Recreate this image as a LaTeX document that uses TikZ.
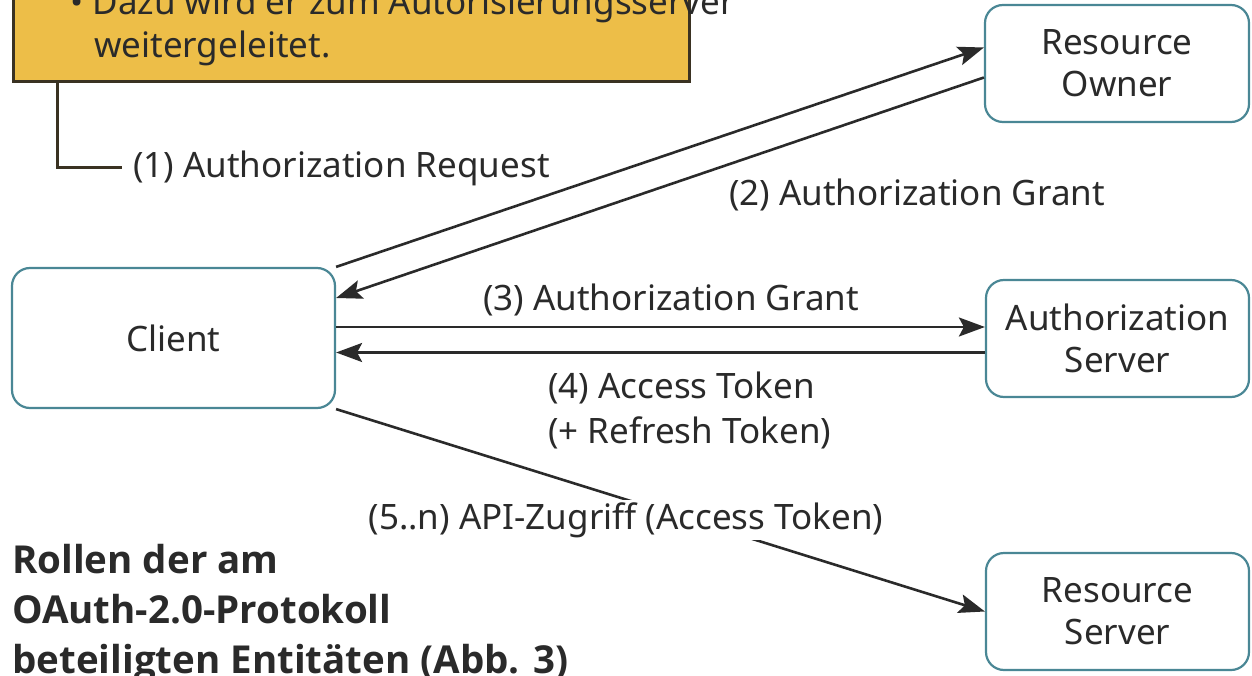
\documentclass[tikz,border=0pt]{standalone}
\usepackage{fontspec}
\setmainfont{Noto Sans}
\newfontfamily\capfont{Open Sans}
\usetikzlibrary{arrows.meta}
\definecolor{notefill}{HTML}{EDBE48}
\definecolor{noteline}{HTML}{3A3222}
\definecolor{boxline}{HTML}{4A8795}
\definecolor{ink}{HTML}{2A2A2A}

\begin{document}
\begin{tikzpicture}[
    x=1pt,
    y=-1pt,
    font=\fontsize{35}{42}\selectfont,
    text=ink,
    v/.style={draw=boxline, line width=2.2pt, rounded corners=18pt, fill=white, align=center, inner sep=0pt},
    note/.style={draw=noteline, line width=3pt, fill=notefill, inner sep=0pt},
    lbl/.style={inner sep=2pt},
    link/.style={draw=noteline, line width=3pt},
    e/.style={draw=ink, line width=2.6pt, -{Stealth[length=26pt, width=19pt, inset=5pt]}},
]
    \useasboundingbox (0,0) rectangle (1252,676);
    \clip (0,0) rectangle (1252,676);

    % note box, cut off at the top
    \node[note, minimum width=676pt, minimum height=160pt, anchor=south west] (note) at (12,83) {};
    \node[anchor=base west, inner sep=0pt] (note1) at (70,15) {\textbullet\ Dazu wird er zum Autorisierungsserver};
    \node[anchor=base west, inner sep=0pt] (note2) at (94,58) {weitergeleitet.};

    \node[v, minimum width=323pt, minimum height=140pt] (client) at (173.5,338) {Client};
    \node[v, minimum width=264pt, minimum height=117pt] (ro) at (1117,63.5) {Resource\\Owner};
    \node[v, minimum width=263pt, minimum height=117pt] (as) at (1117.5,338.5) {Authorization\\Server};
    \node[v, minimum width=263pt, minimum height=117pt] (rs) at (1117.5,611.5) {Resource\\Server};

    \draw[e] (client.north east) -- ([yshift=16pt]ro.west);
    \draw[e] ([yshift=-14pt]ro.west) -- ([yshift=40pt]client.east);
    \draw[e] ([yshift=11pt]client.east) -- ([yshift=11pt]client.east -| as.west);
    \draw[e] ([yshift=-14pt]as.west) -- ([yshift=-14pt]as.west -| client.east);
    \draw[e] (client.south east) -- (rs.west);

    \node[lbl, inner xsep=11pt, anchor=west] (req) at (122,168) {(1) Authorization Request};
    \draw[link] ([xshift=45pt]note.south west) |- (req.west);
    \node[lbl] (grant2) at (917,195) {(2) Authorization Grant};
    \node[lbl] (grant3) at (671,300) {(3) Authorization Grant};
    \node[lbl, anchor=west, align=left, font=\fontsize{35}{45}\selectfont] (token) at (546,410) {(4) Access Token\\(+ Refresh Token)};
    \node[lbl, fill=white] (api) at (626,520) {(5..n) API-Zugriff (Access Token)};

    \node[anchor=north west, align=left, inner sep=0pt, font=\capfont\bfseries\fontsize{38.5}{50}\selectfont] (caption) at (12,544) {Rollen der am\\OAuth-2.0-Protokoll\\beteiligten Entitäten (Abb. 3)};
\end{tikzpicture}
\end{document}
